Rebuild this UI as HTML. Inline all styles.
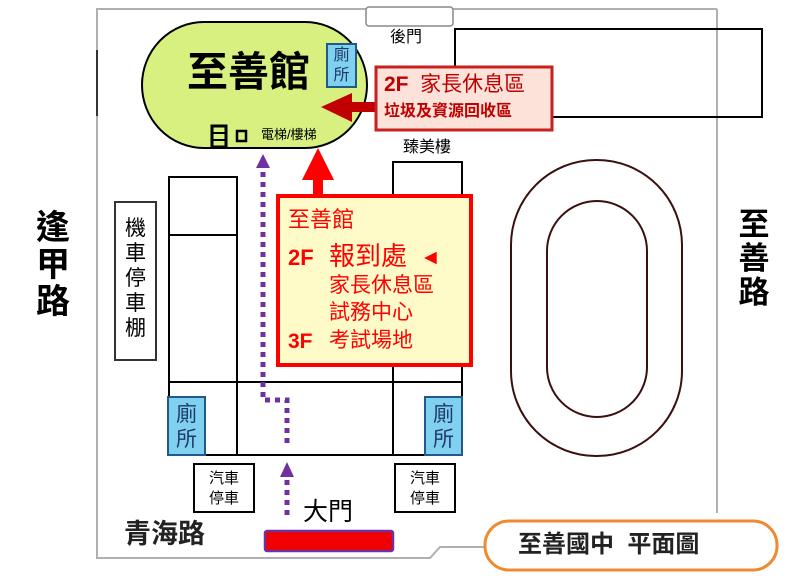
<!DOCTYPE html>
<html><head><meta charset="utf-8"><style>
body{margin:0;width:800px;height:578px;background:#fff;position:relative;overflow:hidden;font-family:"Liberation Sans","Noto Sans CJK TC",sans-serif}
.a{position:absolute;white-space:nowrap;line-height:1}
.v{position:absolute;text-align:center;line-height:1}
</style></head><body>
<svg width="800" height="578" style="position:absolute;left:0;top:0">
<polyline points="717,9 97,9 97,558 430,558 440,547 484,547" fill="none" stroke="#b0b0b0" stroke-width="2"/>
<line x1="717" y1="9" x2="717" y2="513" stroke="#b0b0b0" stroke-width="2"/>
<line x1="97" y1="50" x2="97" y2="116" stroke="#333" stroke-width="2"/>
<rect x="366" y="7" width="87" height="19" rx="3" fill="#fff" stroke="#888" stroke-width="1.5"/>
<rect x="455" y="29" width="307" height="88" fill="none" stroke="#000" stroke-width="2"/>
<rect x="142" y="22" width="225" height="126" rx="62" ry="63" fill="#d8f080" stroke="#000" stroke-width="2"/>
<rect x="327" y="44" width="29" height="43" fill="#80d0f0" stroke="#1f5a8a" stroke-width="2"/>
<rect x="212" y="126" width="14" height="21" fill="none" stroke="#000" stroke-width="3"/>
<line x1="212" y1="133" x2="226" y2="133" stroke="#000" stroke-width="2"/><line x1="212" y1="140" x2="226" y2="140" stroke="#000" stroke-width="2"/>
<rect x="237" y="131" width="9" height="10" fill="none" stroke="#000" stroke-width="2.5"/>
<rect x="169" y="177" width="68" height="278" fill="none" stroke="#000" stroke-width="2"/>
<line x1="169" y1="235" x2="237" y2="235" stroke="#000" stroke-width="2"/>
<rect x="393" y="162" width="69" height="293" fill="none" stroke="#000" stroke-width="2"/>
<line x1="169" y1="382" x2="462" y2="382" stroke="#000" stroke-width="2"/>
<line x1="169" y1="455" x2="462" y2="455" stroke="#000" stroke-width="2"/>
<rect x="115" y="202" width="41" height="158" fill="#fff" stroke="#333" stroke-width="2"/>
<rect x="168" y="397" width="37" height="58" fill="#80d0f0" stroke="#1f5a8a" stroke-width="2"/>
<rect x="425" y="397" width="37" height="58" fill="#80d0f0" stroke="#1f5a8a" stroke-width="2"/>
<rect x="194" y="464" width="60" height="48" fill="#fff" stroke="#000" stroke-width="2"/>
<rect x="395" y="464" width="60" height="48" fill="#fff" stroke="#000" stroke-width="2"/>
<rect x="511" y="160" width="171" height="296" rx="85" ry="85" fill="none" stroke="#3a1010" stroke-width="2"/>
<rect x="547" y="201" width="100" height="216" rx="50" ry="50" fill="none" stroke="#3a1010" stroke-width="2"/>
<polyline points="263,172 263,400 287,400 287,445" fill="none" stroke="#7030a0" stroke-width="5" stroke-dasharray="5,5"/>
<polygon points="263,154 256,168 270,168" fill="#7030a0"/>
<line x1="287" y1="480" x2="287" y2="520" stroke="#7030a0" stroke-width="5" stroke-dasharray="5,5"/>
<polygon points="287,462 280,477 294,477" fill="#7030a0"/>
<rect x="265" y="531" width="128" height="20" rx="2" fill="#f00000" stroke="#7030a0" stroke-width="2.5"/>
<rect x="313" y="178" width="10" height="18" fill="#f00"/>
<polygon points="318,148 302,180 334,180" fill="#f00"/>
<rect x="350" y="102" width="26" height="10" fill="#c00000"/>
<polygon points="321,107 352,93 352,122" fill="#c00000"/>
<rect x="376" y="67" width="176" height="63" fill="#fde2da" stroke="#c8201e" stroke-width="3"/>
<rect x="278" y="196" width="193" height="169" fill="#fefbc8" stroke="#f00" stroke-width="4"/>
<rect x="485" y="521" width="292" height="49" rx="24" fill="#fff" stroke="#f08a30" stroke-width="3"/>
</svg>
<div class="a" style="left:187px;top:52px;font-size:41px;font-weight:bold">至善館</div>
<div class="v" style="left:327px;top:46px;width:29px;font-size:16px;color:#1f3a6a;line-height:20px">廁<br>所</div>
<div class="a" style="left:261px;top:128px;font-size:13px">電梯/樓梯</div>
<div class="a" style="left:390px;top:30px;font-size:16px">後門</div>
<div class="a" style="left:403px;top:140px;font-size:16px">臻美樓</div>
<div class="a" style="left:384px;top:74px;font-size:21px;color:#c00000"><b>2F</b>&nbsp; 家長休息區</div>
<div class="a" style="left:384px;top:104px;font-size:16px;color:#c00000;font-weight:bold">垃圾及資源回收區</div>
<div class="a" style="left:288px;top:209px;font-size:22px;color:#f00">至善館</div>
<div class="a" style="left:288px;top:247px;font-size:22px;color:#f00;font-weight:bold">2F</div>
<div class="a" style="left:329px;top:243px;font-size:26px;color:#f00">報到處</div>
<div class="a" style="left:420px;top:247px;font-size:21px;color:#f00">◄</div>
<div class="a" style="left:329px;top:275px;font-size:21px;color:#f00">家長休息區</div>
<div class="a" style="left:329px;top:302px;font-size:21px;color:#f00">試務中心</div>
<div class="a" style="left:288px;top:331px;font-size:21px;color:#f00;font-weight:bold">3F</div>
<div class="a" style="left:329px;top:330px;font-size:21px;color:#f00">考試場地</div>
<div class="v" style="left:115px;top:216px;width:41px;font-size:21px;line-height:25px">機<br>車<br>停<br>車<br>棚</div>
<div class="v" style="left:168px;top:402px;width:37px;font-size:21px;color:#1f3a6a;line-height:25px">廁<br>所</div>
<div class="v" style="left:425px;top:402px;width:37px;font-size:21px;color:#1f3a6a;line-height:25px">廁<br>所</div>
<div class="v" style="left:194px;top:469px;width:60px;font-size:15px;line-height:20px">汽車<br>停車</div>
<div class="v" style="left:395px;top:469px;width:60px;font-size:15px;line-height:20px">汽車<br>停車</div>
<div class="a" style="left:303px;top:500px;font-size:25px">大門</div>
<div class="a" style="left:124px;top:521px;font-size:27px;font-weight:bold;color:#222">青海路</div>
<div class="v" style="left:34px;top:210px;width:38px;font-size:34px;font-weight:bold;line-height:37px">逢<br>甲<br>路</div>
<div class="v" style="left:736px;top:208px;width:36px;font-size:31px;font-weight:bold;line-height:34px">至<br>善<br>路</div>
<div class="a" style="left:518px;top:533px;font-size:24px;font-weight:bold;color:#222">至善國中&nbsp; 平面圖</div>
</body></html>
